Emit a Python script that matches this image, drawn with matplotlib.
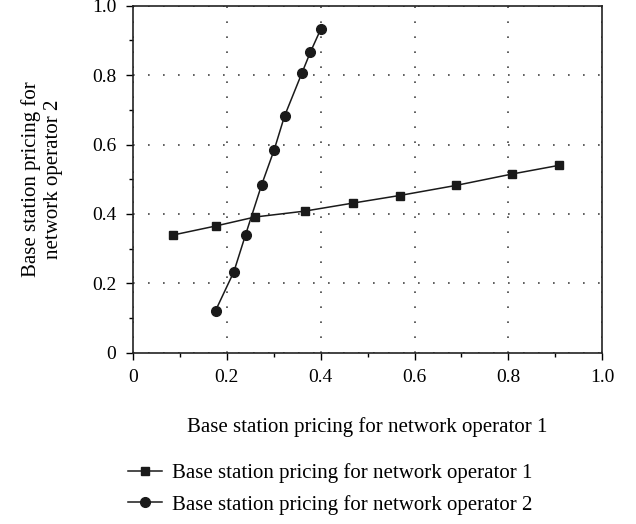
import numpy as np
import matplotlib.pyplot as plt
from matplotlib.ticker import MultipleLocator

# operator 1 best response (squares)
op1_x = [0.085, 0.176, 0.26, 0.366, 0.468, 0.568, 0.688, 0.808, 0.908]
op1_y = [0.339, 0.365, 0.391, 0.408, 0.431, 0.453, 0.482, 0.515, 0.540]

# operator 2 best response (circles)
op2_x = [0.176, 0.215, 0.240, 0.274, 0.301, 0.323, 0.360, 0.378, 0.400]
op2_y = [0.121, 0.233, 0.340, 0.483, 0.585, 0.682, 0.806, 0.866, 0.932]

ticks = [0, 0.2, 0.4, 0.6, 0.8, 1.0]
tick_labels = ['0', '0.2', '0.4', '0.6', '0.8', '1.0']

plt.rcParams['font.family'] = ['Liberation Serif', 'DejaVu Serif']

fig = plt.figure(figsize=(6.36, 5.24), dpi=100)
ax = fig.add_axes([0.209, 0.327, 0.738, 0.662])

ax.plot(op1_x, op1_y, color='#1a1a1a', lw=1.1, marker='s', ms=6,
        label='Base station pricing for network operator 1')
ax.plot(op2_x, op2_y, color='#1a1a1a', lw=1.1, marker='o', ms=7,
        label='Base station pricing for network operator 2')

ax.set_xlim(0, 1.0)
ax.set_ylim(0, 1.0)
ax.set_xticks(ticks)
ax.set_yticks(ticks)
ax.set_xticklabels(tick_labels)
ax.set_yticklabels(tick_labels)
ax.xaxis.set_minor_locator(MultipleLocator(0.1))
ax.yaxis.set_minor_locator(MultipleLocator(0.1))
ax.tick_params(which='major', length=5, width=1, labelsize=14, direction='out', pad=7)
ax.tick_params(which='minor', length=3, width=1, direction='out')
ax.grid(True, which='major', ls=(0, (1, 8)), color='#444444', lw=1.2)
for s in ax.spines.values():
    s.set_linewidth(1.2)
    s.set_color('#222222')

ax.set_xlabel('Base station pricing for network operator 1', fontsize=15, labelpad=22)
ax.set_ylabel('Base station pricing for\nnetwork operator 2', fontsize=15, linespacing=1.15)
ax.yaxis.set_label_coords(-0.15, 0.5)

ax.legend(loc='upper left', bbox_to_anchor=(-0.05, -0.265), frameon=False,
          fontsize=15, handlelength=1.6, handletextpad=0.5, labelspacing=0.55)

fig.savefig('out.png', dpi=100)
